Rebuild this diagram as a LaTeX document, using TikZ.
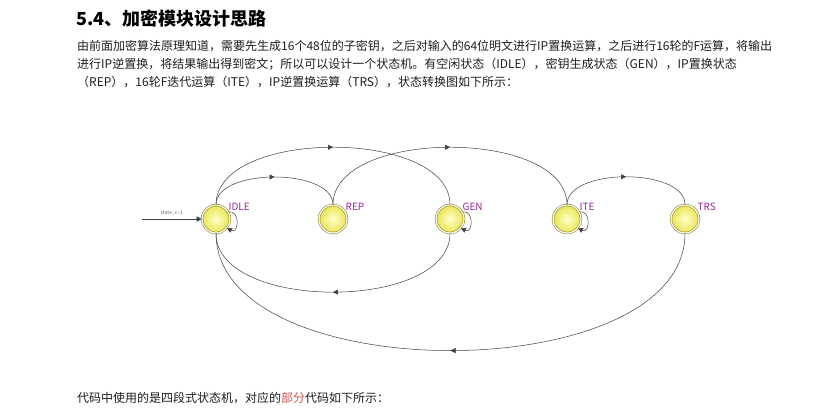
\documentclass[tikz,border=0pt]{standalone}
\usepackage{fontspec}
\setmainfont{Noto Sans CJK SC}
\usetikzlibrary{arrows.meta,decorations.markings}
\definecolor{lila}{RGB}{150,40,150}
\definecolor{perem}{RGB}{150,140,40}
\definecolor{piros}{RGB}{205,85,85}
\definecolor{belso}{RGB}{255,255,205}
\definecolor{kulso}{RGB}{232,228,80}
\definecolor{szoveg}{RGB}{30,30,30}
\tikzset{
  allapot/.style={circle,draw=perem,line width=0.6pt,double=white,double distance=1.2pt,
    inner sep=0pt,minimum size=28pt,inner color=belso,outer color=kulso},
  cimke/.style={text=lila,font=\fontsize{10}{12}\selectfont,inner sep=1.5pt,anchor=south west,yshift=-2.5pt},
  el/.style={draw=black!75,line width=0.5pt},
  hegy/.style={-{Triangle[length=5pt,width=5pt]}},
  kozep/.style={postaction={decorate,decoration={markings,
    mark=at position 0.5 with {\arrow{Triangle[length=5pt,width=5pt]}}}}},
  sor/.style={anchor=west,inner sep=0pt,text=szoveg,font=\fontsize{12}{14}\selectfont},
}

\begin{document}
\begin{tikzpicture}[x=1pt,y=-1pt]
  \useasboundingbox[fill=white] (0,0) rectangle (821,415);
  % szoveg
  \node[sor,text=black,font=\fontsize{18}{20}\selectfont\bfseries] (cim) at (76,19) {5.4、加密模块设计思路};
  \node[sor] (s1) at (77,46) {由前面加密算法原理知道，需要先生成16个48位的子密钥，之后对输入的64位明文进行IP置换运算，之后进行16轮的F运算，将输出};
  \node[sor] (s2) at (77,64) {进行IP逆置换，将结果输出得到密文；所以可以设计一个状态机。有空闲状态（IDLE），密钥生成状态（GEN），IP置换状态};
  \node[sor] (s3) at (77,82) {（REP），16轮F迭代运算（ITE），IP逆置换运算（TRS），状态转换图如下所示：};
  \node[sor] (s4) at (77,398) {代码中使用的是四段式状态机，对应的{\color{piros}部分}代码如下所示：};

  % allapotok
  \node[allapot,label={[cimke]40:IDLE}] (idle) at (216,219) {};
  \node[allapot,label={[cimke]40:REP}] (rep) at (333,219) {};
  \node[allapot,label={[cimke]40:GEN}] (gen) at (450,219) {};
  \node[allapot,label={[cimke]40:ITE}] (ite) at (567,219) {};
  \node[allapot,label={[cimke]40:TRS}] (trs) at (685,219) {};

  \coordinate (be) at (142,219);
  \draw[el,hegy] (be) -- (idle)
    node[midway,above=0.5pt,text=black!60,font=\fontsize{5}{6}\selectfont] {state\_c\textasciitilde1};

  % felso ivek
  \draw[el,kozep] (idle.north) to[out=90,in=90,looseness=0.81] (rep.north);
  \draw[el,kozep] (idle.north) to[out=90,in=90,looseness=0.84] (gen.north);
  \draw[el,kozep] (rep.north) to[out=90,in=90,looseness=0.84] (ite.north);
  \draw[el,kozep] (ite.north) to[out=90,in=90,looseness=0.81] (trs.north);
  % also ivek
  \draw[el,kozep] (gen.south) to[out=-90,in=-90,looseness=0.86] (idle.south);
  \draw[el,kozep] (trs.south) to[out=-90,in=-90,looseness=0.855] (idle.south);

  % hurkok
  \foreach \a in {idle,gen,ite}
    \draw[el,hegy] (\a.30) .. controls +(12,-2) and +(12,6) .. (\a.-40);
\end{tikzpicture}
\end{document}
